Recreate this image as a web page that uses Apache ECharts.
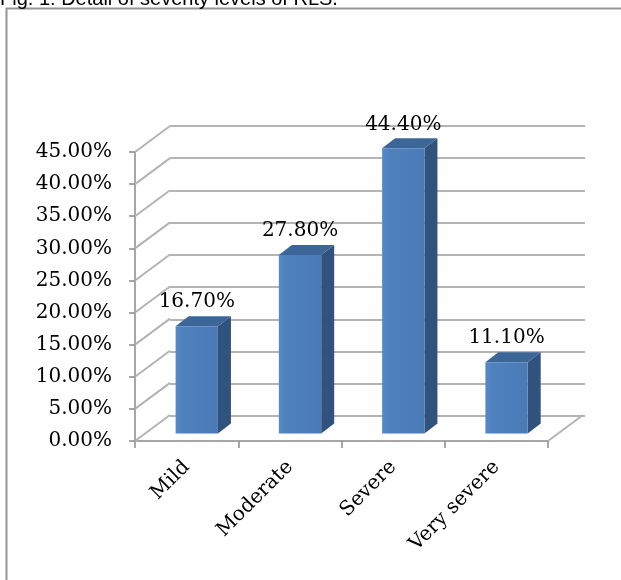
<!DOCTYPE html>
<html>
<head>
<meta charset="utf-8">
<script src="https://cdn.jsdelivr.net/npm/echarts@6/dist/echarts.min.js"></script>
<style>
html,body{margin:0;padding:0;background:#fff;}
#chart{width:621px;height:580px;}
</style>
</head>
<body>
<div id="chart"></div>
<script>
// ---- data ----
var categories = ['Mild', 'Moderate', 'Severe', 'Very severe'];
var percentValues = [16.7, 27.8, 44.4, 11.1];
var yTickValues = [0, 5, 10, 15, 20, 25, 30, 35, 40, 45];
var titleText = 'Fig. 1: Detail of severity levels of RLS.';

// ---- layout constants ----
var FRONT = {left: 135, top: 152, width: 413, height: 289};
var DX = 35, DY = -26;              // depth of the 3D box
var BAR_DEPTH_FRAC = 0.29;          // where bar front face sits in the depth
var BAR_DX = 13, BAR_DY = -10;      // bar depth
var SERIF = 'DejaVu Serif';

var chart = echarts.init(document.getElementById('chart'), null, {renderer: 'canvas'});

function fmtPct(v) { return v.toFixed(2) + '%'; }

var option = {
  backgroundColor: '#ffffff',
  animation: false,
  graphic: [
    {
      type: 'rect', z: 0, silent: true,
      shape: {x: 6.5, y: 8.5, width: 700, height: 700},
      style: {fill: 'none', stroke: '#959595', lineWidth: 2}
    },
    {
      type: 'text', left: 0, top: -11, z: 10,
      style: {text: titleText, font: '20px "Liberation Sans", Arial, sans-serif', fill: '#000'}
    }
  ],
  grid: [
    {left: FRONT.left, top: FRONT.top, width: FRONT.width, height: FRONT.height},
    {left: FRONT.left + DX, top: FRONT.top + DY, width: FRONT.width + 2, height: FRONT.height + 1}
  ],
  xAxis: [
    {
      type: 'category', gridIndex: 0, data: categories,
      axisLine: {show: true, lineStyle: {color: '#8a8a8a', width: 1.5}},
      axisTick: {show: true, length: 7, lineStyle: {color: '#8a8a8a', width: 1.5}},
      axisLabel: {
        rotate: 45, margin: 23, color: '#000',
        fontFamily: SERIF, fontSize: 20, interval: 0
      }
    },
    {
      type: 'category', gridIndex: 1, data: categories,
      axisLine: {show: false}, axisTick: {show: false}, axisLabel: {show: false}
    }
  ],
  yAxis: [
    {
      type: 'value', gridIndex: 0, min: 0, max: 45, interval: 5,
      axisLine: {show: true, lineStyle: {color: '#8a8a8a', width: 1.5}},
      axisTick: {show: true, length: 6, lineStyle: {color: '#8a8a8a', width: 1.5}},
      splitLine: {show: false},
      axisLabel: {
        margin: 23, color: '#000', fontFamily: SERIF, fontSize: 20,
        formatter: function (v) { return fmtPct(v); }
      }
    },
    {
      type: 'value', gridIndex: 1, min: 0, max: 45, interval: 5,
      axisLine: {show: false}, axisTick: {show: false}, axisLabel: {show: false},
      splitLine: {show: true, lineStyle: {color: '#b4b4b4', width: 2}}
    }
  ],
  series: [
    {
      // side wall gridlines + floor edge
      type: 'custom', xAxisIndex: 0, yAxisIndex: 0, z: 1, silent: true,
      data: yTickValues.map(function (v) { return [0, v]; }),
      renderItem: function (params, api) {
        var cs = params.coordSys;
        var y = api.coord([0, api.value(1)])[1];
        var style = {stroke: '#b4b4b4', lineWidth: 2};
        var children = [{
          type: 'line',
          shape: {x1: cs.x, y1: y, x2: cs.x + DX, y2: y + DY},
          style: style
        }];
        if (api.value(1) === 0) {
          children.push({
            type: 'line',
            shape: {x1: cs.x + cs.width, y1: y, x2: cs.x + cs.width + DX, y2: y + DY},
            style: style
          });
        }
        return {type: 'group', children: children};
      }
    },
    {
      // 3D bars
      type: 'custom', xAxisIndex: 0, yAxisIndex: 0, z: 5, silent: true,
      data: categories.map(function (c, i) { return [i, percentValues[i]]; }),
      renderItem: function (params, api) {
        var i = api.value(0), v = api.value(1);
        var top = api.coord([i, v]);
        var base = api.coord([i, 0]);
        var bw = api.size([1, 0])[0];
        var w = bw * 0.41;
        var ox = DX * BAR_DEPTH_FRAC, oy = DY * BAR_DEPTH_FRAC;
        var cx = top[0] + ox;
        var xl = cx - w / 2, xr = cx + w / 2;
        var yt = top[1] + oy, yb = base[1] + oy;
        return {
          type: 'group',
          children: [
            {
              type: 'polygon',
              shape: {points: [[xr, yt], [xr + BAR_DX, yt + BAR_DY], [xr + BAR_DX, yb + BAR_DY], [xr, yb]]},
              style: {fill: '#30527c'}
            },
            {
              type: 'polygon',
              shape: {points: [[xl, yt], [xl + BAR_DX, yt + BAR_DY], [xr + BAR_DX, yt + BAR_DY], [xr, yt]]},
              style: {fill: '#3d6698'}
            },
            {
              type: 'rect',
              shape: {x: xl, y: yt, width: w, height: yb - yt},
              style: {
                fill: new echarts.graphic.LinearGradient(0, 0, 1, 0, [
                  {offset: 0, color: '#578acb'},
                  {offset: 0.15, color: '#4f81bd'},
                  {offset: 1, color: '#4a7bb7'}
                ])
              }
            },
            {
              type: 'text',
              style: {
                x: cx, y: yt - 24, text: fmtPct(v),
                fontFamily: SERIF, fontSize: 20, fill: '#000',
                align: 'center', verticalAlign: 'middle'
              }
            }
          ]
        };
      }
    }
  ]
};

chart.setOption(option);
</script>
</body>
</html>
